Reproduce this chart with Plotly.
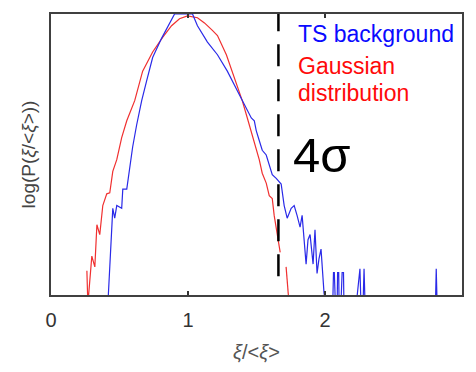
import plotly.graph_objects as go

# Gaussian distribution (red): x = xi/<xi>, y = log10 P (relative to peak)
gauss_x = [0.262, 0.269, 0.298, 0.320, 0.335, 0.356, 0.378, 0.407, 0.429, 0.451, 0.480, 0.516,
           0.553, 0.611, 0.669, 0.742, 0.815, 0.880, 0.938, 0.996, 1.069, 1.120, 1.178, 1.215,
           1.280, 1.338, 1.396, 1.433, 1.469, 1.505, 1.520, 1.542, 1.571, 1.593, 1.615, 1.629,
           1.651, 1.673, None, 1.716, 1.738]
gauss_y = [-5.48, -6.2, -5.17, -5.40, -4.50, -4.71, -4.09, -3.84, -3.82, -3.36, -3.11, -2.64,
           -2.28, -1.85, -1.22, -0.81, -0.50, -0.25, -0.10, -0.04, -0.08, -0.19, -0.35, -0.46,
           -0.87, -1.35, -1.85, -2.22, -2.57, -2.91, -3.11, -3.40, -3.61, -3.88, -3.94, -4.30,
           -4.71, -5.09, None, -5.40, -6.2]

# TS background (blue)
ts_x = [0.415, 0.451, 0.465, 0.480, 0.516, 0.524, 0.553, 0.575, 0.596, 0.625, 0.662, 0.698,
        0.742, 0.807, 0.865, 0.902, 0.938, 0.996, 1.033, 1.069, 1.142, 1.215, 1.287, 1.360,
        1.433, 1.462, 1.484, 1.498, 1.520, 1.542, 1.571, 1.593, 1.615, 1.644, 1.680, 1.702,
        1.724, 1.753, 1.775, 1.796, 1.818, 1.833, 1.847, 1.862, 1.876, 1.891, 1.913, 1.927,
        1.942, 1.956, 1.971, 1.993, 2.007, 2.050, 2.062, 2.068, 2.085, 2.092, 2.100, 2.106,
        2.125, 2.135, 2.142, 2.150, 2.200, 2.255, 2.262, 2.270, 2.285, 2.292, 2.300, 2.800,
        2.812, 2.825]
ts_y = [-6.2, -4.15, -4.36, -4.09, -4.15, -3.74, -3.74, -3.26, -2.84, -2.37, -1.85, -1.43,
        -0.93, -0.52, -0.19, 0.00, 0.01, 0.01, 0.00, -0.25, -0.60, -0.87, -1.22, -1.64,
        -2.06, -2.22, -2.28, -2.49, -2.70, -2.91, -3.01, -3.20, -3.43, -3.51, -3.63, -4.09,
        -4.36, -4.15, -4.09, -4.30, -4.55, -4.30, -4.92, -5.34, -4.82, -4.71, -5.34, -4.61,
        -5.54, -5.23, -5.02, -5.96, -6.2, -7.0, -5.52, -5.52, -7.0, -5.52, -5.52, -7.0,
        -5.52, -5.52, -7.0, -7.0, -7.0, -5.44, -7.0, -7.0, -5.44, -7.0, -7.0, -7.0,
        -5.44, -7.0]

sigma4_x = 1.66
sigma4_y = [-5.6, 0.0]

fig = go.Figure()
fig.add_trace(go.Scatter(x=gauss_x, y=gauss_y, mode="lines",
                         line=dict(color="#f03030", width=1.2), connectgaps=False,
                         showlegend=False, hoverinfo="skip"))
fig.add_trace(go.Scatter(x=ts_x, y=ts_y, mode="lines",
                         line=dict(color="#2a2ae8", width=1.2), connectgaps=False,
                         showlegend=False, hoverinfo="skip"))
fig.add_trace(go.Scatter(x=[sigma4_x, sigma4_x], y=sigma4_y, mode="lines",
                         line=dict(color="black", width=2.5, dash="22px,13px"),
                         showlegend=False, hoverinfo="skip"))

lab_font = "Liberation Sans, Arial"
fig.add_annotation(x=1.785, y=-0.43, xref="x", yref="y", text="TS background",
                   showarrow=False, xanchor="left", yanchor="middle",
                   font=dict(family=lab_font, size=23, color="#0a0aff"))
fig.add_annotation(x=1.785, y=-1.11, xref="x", yref="y", text="Gaussian",
                   showarrow=False, xanchor="left", yanchor="middle",
                   font=dict(family=lab_font, size=23, color="#ff0a0a"))
fig.add_annotation(x=1.785, y=-1.69, xref="x", yref="y", text="distribution",
                   showarrow=False, xanchor="left", yanchor="middle",
                   font=dict(family=lab_font, size=23, color="#ff0a0a"))
fig.add_annotation(x=1.75, y=-3.0, xref="x", yref="y", text="4σ",
                   showarrow=False, xanchor="left", yanchor="middle",
                   font=dict(family=lab_font, size=49, color="black"))

axis_font = dict(family=lab_font, size=20, color="#333333")
fig.update_xaxes(range=[0, 3], tickvals=[0, 1, 2], ticktext=["0", "1", "2"],
                 ticks="inside", ticklen=4, tickwidth=1.5, tickcolor="#333333",
                 showline=True, linecolor="#404040", linewidth=1.8, mirror="ticks",
                 showgrid=False, zeroline=False, tickfont=axis_font, ticklabelstandoff=6,
                 title=dict(text="<i>ξ</i>/<<i>ξ</i>>",
                            font=dict(family=lab_font, size=20, color="#555555"), standoff=15))
fig.update_yaxes(range=[-6, 0], showticklabels=False, ticks="",
                 showline=True, linecolor="#404040", linewidth=1.8, mirror=True,
                 showgrid=False, zeroline=False,
                 title=dict(text="log(P(<i>ξ</i>/<<i>ξ</i>>))",
                            font=dict(family=lab_font, size=19, color="#444444"), standoff=8))
fig.update_layout(width=476, height=372, margin=dict(l=51, r=12, t=13, b=70),
                  plot_bgcolor="white", paper_bgcolor="white")
fig.write_html("out.html")
